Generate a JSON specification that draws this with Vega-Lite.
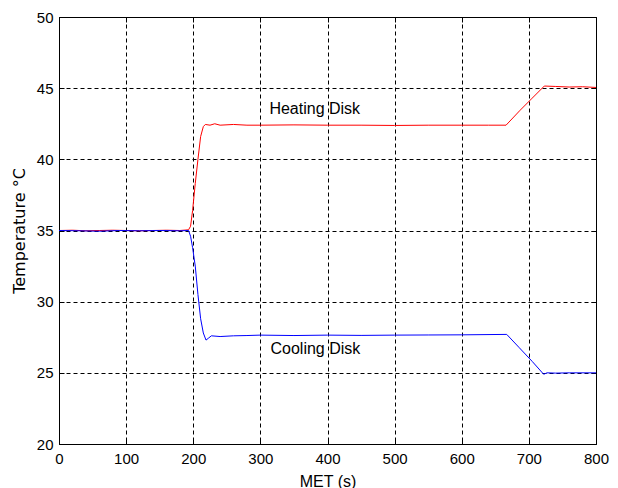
{
  "$schema": "https://vega.github.io/schema/vega-lite/v6.json",
  "autosize": "none",
  "width": 537,
  "height": 427,
  "padding": {"left": 59, "top": 17, "right": 22, "bottom": 44},
  "background": "white",
  "config": {
    "view": {"stroke": "black", "strokeWidth": 1},
    "font": "Liberation Sans",
    "axis": {
      "domainColor": "black",
      "gridColor": "black",
      "gridDash": [4, 3],
      "gridOpacity": 1,
      "gridWidth": 1,
      "tickColor": "black",
      "tickSize": -5,
      "labelFont": "Liberation Sans",
      "labelFontSize": 15,
      "labelColor": "black",
      "titleFont": "Liberation Sans",
      "titleFontSize": 16,
      "titleFontWeight": "normal",
      "titleColor": "black"
    }
  },
  "datasets": {
    "series": [
      {"series": "Heating Disk", "t": 0, "temp": 35.0},
      {"series": "Heating Disk", "t": 20, "temp": 35.02},
      {"series": "Heating Disk", "t": 40, "temp": 34.98},
      {"series": "Heating Disk", "t": 60, "temp": 35.0},
      {"series": "Heating Disk", "t": 80, "temp": 35.02},
      {"series": "Heating Disk", "t": 100, "temp": 35.0},
      {"series": "Heating Disk", "t": 120, "temp": 34.98},
      {"series": "Heating Disk", "t": 140, "temp": 35.0},
      {"series": "Heating Disk", "t": 160, "temp": 35.02},
      {"series": "Heating Disk", "t": 180, "temp": 35.0},
      {"series": "Heating Disk", "t": 193, "temp": 35.05},
      {"series": "Heating Disk", "t": 196, "temp": 35.3},
      {"series": "Heating Disk", "t": 199, "temp": 36.4},
      {"series": "Heating Disk", "t": 203, "temp": 38.3},
      {"series": "Heating Disk", "t": 207, "temp": 40.0},
      {"series": "Heating Disk", "t": 211, "temp": 41.6},
      {"series": "Heating Disk", "t": 215, "temp": 42.3},
      {"series": "Heating Disk", "t": 218, "temp": 42.45},
      {"series": "Heating Disk", "t": 225, "temp": 42.4},
      {"series": "Heating Disk", "t": 232, "temp": 42.5},
      {"series": "Heating Disk", "t": 240, "temp": 42.4},
      {"series": "Heating Disk", "t": 260, "temp": 42.45},
      {"series": "Heating Disk", "t": 280, "temp": 42.4},
      {"series": "Heating Disk", "t": 300, "temp": 42.4},
      {"series": "Heating Disk", "t": 350, "temp": 42.42},
      {"series": "Heating Disk", "t": 400, "temp": 42.4},
      {"series": "Heating Disk", "t": 450, "temp": 42.4},
      {"series": "Heating Disk", "t": 500, "temp": 42.38},
      {"series": "Heating Disk", "t": 550, "temp": 42.4},
      {"series": "Heating Disk", "t": 600, "temp": 42.4},
      {"series": "Heating Disk", "t": 640, "temp": 42.4},
      {"series": "Heating Disk", "t": 666, "temp": 42.4},
      {"series": "Heating Disk", "t": 687, "temp": 43.45},
      {"series": "Heating Disk", "t": 705, "temp": 44.3},
      {"series": "Heating Disk", "t": 723, "temp": 45.15},
      {"series": "Heating Disk", "t": 740, "temp": 45.12},
      {"series": "Heating Disk", "t": 760, "temp": 45.08},
      {"series": "Heating Disk", "t": 780, "temp": 45.1},
      {"series": "Heating Disk", "t": 800, "temp": 45.05},
      {"series": "Cooling Disk", "t": 0, "temp": 35.0},
      {"series": "Cooling Disk", "t": 30, "temp": 34.98},
      {"series": "Cooling Disk", "t": 60, "temp": 34.95},
      {"series": "Cooling Disk", "t": 90, "temp": 35.0},
      {"series": "Cooling Disk", "t": 120, "temp": 34.98},
      {"series": "Cooling Disk", "t": 150, "temp": 35.0},
      {"series": "Cooling Disk", "t": 180, "temp": 34.98},
      {"series": "Cooling Disk", "t": 193, "temp": 35.0},
      {"series": "Cooling Disk", "t": 196, "temp": 34.6},
      {"series": "Cooling Disk", "t": 199, "temp": 33.8},
      {"series": "Cooling Disk", "t": 203, "temp": 32.5},
      {"series": "Cooling Disk", "t": 207, "temp": 30.5},
      {"series": "Cooling Disk", "t": 211, "temp": 28.8},
      {"series": "Cooling Disk", "t": 215, "temp": 27.8},
      {"series": "Cooling Disk", "t": 219, "temp": 27.3},
      {"series": "Cooling Disk", "t": 223, "temp": 27.45},
      {"series": "Cooling Disk", "t": 227, "temp": 27.6},
      {"series": "Cooling Disk", "t": 240, "temp": 27.55},
      {"series": "Cooling Disk", "t": 260, "temp": 27.6},
      {"series": "Cooling Disk", "t": 280, "temp": 27.62},
      {"series": "Cooling Disk", "t": 300, "temp": 27.65},
      {"series": "Cooling Disk", "t": 350, "temp": 27.62},
      {"series": "Cooling Disk", "t": 400, "temp": 27.65},
      {"series": "Cooling Disk", "t": 450, "temp": 27.63},
      {"series": "Cooling Disk", "t": 500, "temp": 27.65},
      {"series": "Cooling Disk", "t": 550, "temp": 27.66},
      {"series": "Cooling Disk", "t": 600, "temp": 27.67},
      {"series": "Cooling Disk", "t": 667, "temp": 27.7},
      {"series": "Cooling Disk", "t": 685, "temp": 26.8},
      {"series": "Cooling Disk", "t": 705, "temp": 25.8},
      {"series": "Cooling Disk", "t": 722, "temp": 24.9},
      {"series": "Cooling Disk", "t": 727, "temp": 25.0},
      {"series": "Cooling Disk", "t": 740, "temp": 24.98},
      {"series": "Cooling Disk", "t": 760, "temp": 25.0},
      {"series": "Cooling Disk", "t": 800, "temp": 25.0}
    ],
    "labels": [
      {"series": "Heating Disk", "t": 381, "temp": 43.55},
      {"series": "Cooling Disk", "t": 382, "temp": 26.65}
    ]
  },
  "resolve": {"axis": {"x": "independent", "y": "independent"}},
  "layer": [
    {
      "data": {"name": "series"},
      "mark": {"type": "line", "strokeWidth": 1, "clip": true},
      "encoding": {
        "x": {
          "field": "t", "type": "quantitative",
          "scale": {"domain": [0, 800], "nice": false, "zero": false},
          "axis": {"values": [0,100,200,300,400,500,600,700,800], "title": "MET (s)", "labelPadding": 12, "titlePadding": 7, "labelFlush": false}
        },
        "y": {
          "field": "temp", "type": "quantitative",
          "scale": {"domain": [20, 50], "nice": false, "zero": false},
          "axis": {"values": [20,25,30,35,40,45,50], "title": "Temperature °C", "titleFont": "DejaVu Sans", "titleFontSize": 16, "labelPadding": 11, "titlePadding": 9, "labelFlush": false}
        },
        "color": {
          "field": "series", "type": "nominal",
          "scale": {"domain": ["Heating Disk", "Cooling Disk"], "range": ["#ff0000", "#0000ff"]},
          "legend": null
        },
        "detail": {"field": "series"}
      }
    },
    {
      "data": {"name": "series"},
      "mark": {"type": "line", "strokeOpacity": 0},
      "encoding": {
        "x": {
          "field": "t", "type": "quantitative",
          "axis": {"orient": "top", "values": [0,100,200,300,400,500,600,700,800], "title": null, "labels": false, "grid": false, "domain": false}
        },
        "y": {
          "field": "temp", "type": "quantitative",
          "axis": {"orient": "right", "values": [20,25,30,35,40,45,50], "title": null, "labels": false, "grid": false, "domain": false}
        },
        "detail": {"field": "series"}
      }
    },
    {
      "data": {"name": "labels"},
      "mark": {"type": "text", "font": "Liberation Sans", "fontSize": 16, "color": "black", "align": "center", "baseline": "middle"},
      "encoding": {
        "x": {"field": "t", "type": "quantitative", "axis": null},
        "y": {"field": "temp", "type": "quantitative", "axis": null},
        "text": {"field": "series"}
      }
    }
  ]
}
